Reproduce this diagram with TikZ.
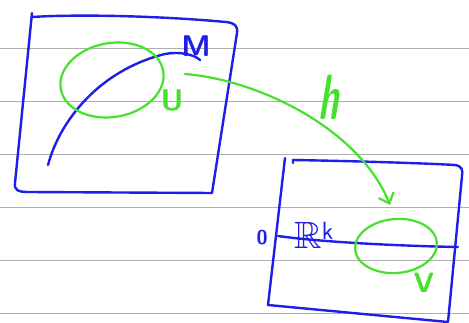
\documentclass[tikz,border=0pt]{standalone}
\usepackage{amssymb}
\usetikzlibrary{arrows.meta,shapes.geometric}
\definecolor{pen}{RGB}{30,30,235}
\definecolor{hl}{RGB}{70,225,45}
\definecolor{rulegray}{RGB}{175,175,175}
\begin{document}
\begin{tikzpicture}[x=1pt,y=-1pt,line cap=round,line join=round,
  blueink/.style={draw=pen,line width=2.4pt},
  greenink/.style={draw=hl,line width=2.2pt},
  ruleline/.style={draw=rulegray,line width=1pt},
  oval/.style={ellipse,draw=hl,line width=2.2pt,inner sep=0pt},
  lbl/.style={inner sep=0pt}]
\useasboundingbox (0,0) rectangle (469,323);
\fill[white] (0,0) rectangle (469,323);
\foreach \y in {49,102,155,208,261,314} \draw[ruleline] (0,\y) -- (469,\y);
% left box
\draw[blueink] (32,13) -- (15,183) .. controls (14,190) and (18,192) .. (28,192)
  -- (212,193) -- (237,33) .. controls (238,25) and (234,23) .. (226,22)
  .. controls (160,16) and (80,14) .. (32,17);
% curve M
\draw[blueink] (48,165) .. controls (60,120) and (100,70) .. (165,54)
  .. controls (180,51) and (195,55) .. (200,60);
\node[lbl,text=pen,font=\fontsize{30}{32}\selectfont\sffamily\bfseries] (M) at (196,46) {M};
% U
\node[oval,minimum width=104pt,minimum height=74pt,rotate=10] (U) at (112,80) {};
\node[lbl,text=hl,font=\fontsize{30}{32}\selectfont\sffamily\bfseries] (Ulbl) at (172,100) {U};
% right box
\draw[blueink] (293,163) -- (293,160) .. controls (350,161) and (420,163) .. (455,165)
  .. controls (462,166) and (463,170) .. (462,176) -- (448,322) -- (268,305) -- (285,158);
\draw[blueink] (278,236) .. controls (320,242) and (400,246) .. (458,247);
\node[lbl,text=pen,font=\fontsize{20}{22}\selectfont\sffamily\bfseries] (zero) at (262,238) {0};
\node[lbl,text=pen,font=\fontsize{38}{40}\selectfont] (Rk) at (314,235) {$\mathbb{R}^{\mathsf{k}}$};
% V
\node[oval,minimum width=82pt,minimum height=54pt,rotate=5] (V) at (396,246) {};
\node[lbl,text=hl,font=\fontsize{28}{30}\selectfont\sffamily\bfseries] (Vlbl) at (424,283) {V};
% arrow h
\coordinate (hs) at (185,74);
\coordinate (he) at (390,205);
\draw[greenink,-{Straight Barb[length=9pt,width=16pt]}] (hs) .. controls (260,80) and (360,130) .. (he);
\node[lbl,text=hl,font=\fontsize{64}{64}\selectfont\sffamily\bfseries,xscale=0.55,xslant=0.3] (h) at (332,97) {h};
\end{tikzpicture}
\end{document}
